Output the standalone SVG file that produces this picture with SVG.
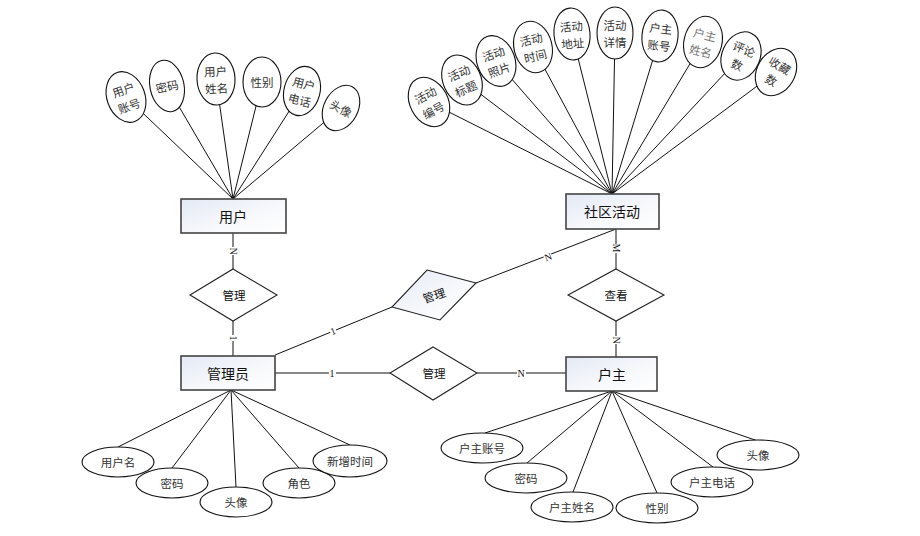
<svg xmlns="http://www.w3.org/2000/svg" width="920" height="536" viewBox="0 0 920 536">
  <defs>
    <linearGradient id="entFill" x1="0" y1="0" x2="1" y2="1">
      <stop offset="0" stop-color="#e3e9f5"/>
      <stop offset="0.6" stop-color="#f8f9fc"/>
      <stop offset="1" stop-color="#ffffff"/>
    </linearGradient>
    <style>
      .ent { fill: url(#entFill); stroke: #444; stroke-width: 1.6; }
      .rel { fill: #fff; stroke: #222; stroke-width: 1.1; }
      .relg { fill: url(#entFill); stroke: #222; stroke-width: 1.1; }
      .attr { fill: #fff; stroke: #111; stroke-width: 1.1; }
      .ln { stroke: #111; stroke-width: 1; fill: none; }
      .t-ent { font-family: "Noto Sans CJK SC", "Liberation Sans", sans-serif; font-size: 14px; fill: #111; text-anchor: middle; dominant-baseline: central; }
      .t-rel { font-family: "Noto Sans CJK SC", "Liberation Sans", sans-serif; font-size: 11.5px; fill: #111; text-anchor: middle; dominant-baseline: central; }
      .t-att { font-family: "Noto Sans CJK SC", "Liberation Sans", sans-serif; font-size: 11.5px; fill: #333; text-anchor: middle; dominant-baseline: central; }
      .card { font-family: "Liberation Serif", serif; font-size: 10px; fill: #111; text-anchor: middle; dominant-baseline: central; }
      .cbg { fill: #fff; }
    </style>
  </defs>

  <!-- connectors -->
  <g id="connectors">
    <!-- 用户 attributes -->
    <line class="ln" x1="233" y1="199" x2="126" y2="97"/>
    <line class="ln" x1="233" y1="199" x2="167" y2="86"/>
    <line class="ln" x1="233" y1="199" x2="216" y2="79"/>
    <line class="ln" x1="233" y1="199" x2="262" y2="82"/>
    <line class="ln" x1="233" y1="199" x2="302" y2="91"/>
    <line class="ln" x1="233" y1="199" x2="341" y2="108"/>
    <!-- 社区活动 attributes -->
    <line class="ln" x1="612" y1="194" x2="429" y2="102"/>
    <line class="ln" x1="612" y1="194" x2="462" y2="80"/>
    <line class="ln" x1="612" y1="194" x2="496" y2="61"/>
    <line class="ln" x1="612" y1="194" x2="533" y2="47"/>
    <line class="ln" x1="612" y1="194" x2="572" y2="34"/>
    <line class="ln" x1="612" y1="194" x2="615" y2="33"/>
    <line class="ln" x1="612" y1="194" x2="660" y2="36"/>
    <line class="ln" x1="612" y1="194" x2="703" y2="42"/>
    <line class="ln" x1="612" y1="194" x2="741" y2="56"/>
    <line class="ln" x1="612" y1="194" x2="776" y2="72"/>
    <!-- 管理员 attributes -->
    <line class="ln" x1="231" y1="390" x2="118" y2="447"/>
    <line class="ln" x1="231" y1="390" x2="172" y2="468"/>
    <line class="ln" x1="231" y1="390" x2="236" y2="487"/>
    <line class="ln" x1="231" y1="390" x2="299" y2="468"/>
    <line class="ln" x1="231" y1="390" x2="350" y2="445"/>
    <!-- 户主 attributes -->
    <line class="ln" x1="612" y1="391" x2="485" y2="433"/>
    <line class="ln" x1="612" y1="391" x2="527" y2="463"/>
    <line class="ln" x1="612" y1="391" x2="573" y2="492"/>
    <line class="ln" x1="612" y1="391" x2="657" y2="493"/>
    <line class="ln" x1="612" y1="391" x2="713" y2="467"/>
    <line class="ln" x1="612" y1="391" x2="758" y2="441"/>

    <!-- relationships -->
    <line class="ln" x1="233" y1="233" x2="233" y2="269"/>
    <line class="ln" x1="233" y1="321" x2="233" y2="356"/>
    <line class="ln" x1="616" y1="229" x2="616" y2="269"/>
    <line class="ln" x1="616" y1="321" x2="616" y2="357"/>
    <line class="ln" x1="275" y1="355" x2="392" y2="307"/>
    <line class="ln" x1="476" y1="283" x2="616" y2="229"/>
    <line class="ln" x1="275" y1="373" x2="390" y2="373"/>
    <line class="ln" x1="477" y1="373" x2="566" y2="373"/>

    <!-- cardinality labels -->
    <g transform="translate(233,251) rotate(90)"><rect class="cbg" x="-4" y="-4" width="8" height="8"/><text class="card" x="0" y="0">N</text></g>
    <g transform="translate(233,338) rotate(90)"><rect class="cbg" x="-3" y="-4" width="6" height="8"/><text class="card" x="0" y="0">1</text></g>
    <g transform="translate(616,248) rotate(90)"><rect class="cbg" x="-4" y="-4" width="9" height="8"/><text class="card" x="0" y="0">M</text></g>
    <g transform="translate(616,340) rotate(90)"><rect class="cbg" x="-4" y="-4" width="8" height="8"/><text class="card" x="0" y="0">N</text></g>
    <g transform="translate(333,331) rotate(-22)"><rect class="cbg" x="-3" y="-4" width="6" height="8"/><text class="card" x="0" y="0">1</text></g>
    <g transform="translate(548,257) rotate(-21)"><rect class="cbg" x="-4" y="-4" width="8" height="8"/><text class="card" x="0" y="0">N</text></g>
    <g><rect class="cbg" x="329" y="368" width="7" height="10"/><text class="card" x="332" y="373">1</text></g>
    <g><rect class="cbg" x="517" y="368" width="9" height="10"/><text class="card" x="521" y="373">N</text></g>
  </g>

  <!-- entities -->
  <g id="ent-user">
    <rect class="ent" x="181" y="199" width="105" height="34"/>
    <text class="t-ent" x="233" y="216">用户</text>
  </g>
  <g id="ent-activity">
    <rect class="ent" x="566" y="194" width="93" height="35"/>
    <text class="t-ent" x="612" y="211">社区活动</text>
  </g>
  <g id="ent-admin">
    <rect class="ent" x="181" y="356" width="94" height="34"/>
    <text class="t-ent" x="228" y="373">管理员</text>
  </g>
  <g id="ent-owner">
    <rect class="ent" x="566" y="357" width="91" height="34"/>
    <text class="t-ent" x="612" y="374">户主</text>
  </g>

  <!-- relationships -->
  <g id="rel-user-admin">
    <polygon class="rel" points="233,269 277,295 233,321 190,295"/>
    <text class="t-rel" x="234" y="295">管理</text>
  </g>
  <g id="rel-admin-activity">
    <polygon class="relg" points="427,270 476,283 440,320 392,307"/>
    <text class="t-rel" x="0" y="0" transform="translate(434,295) rotate(-18)">管理</text>
  </g>
  <g id="rel-admin-owner">
    <polygon class="rel" points="433,347 477,373 433,400 390,373"/>
    <text class="t-rel" x="434" y="373">管理</text>
  </g>
  <g id="rel-view">
    <polygon class="rel" points="616,269 664,295 616,321 568,295"/>
    <text class="t-rel" x="616" y="295">查看</text>
  </g>

  <!-- 用户 attributes -->
  <g id="attr-user-account" transform="translate(126,97) rotate(-20)"><ellipse class="attr" rx="19" ry="26"/><text class="t-att" y="-8">用户</text><text class="t-att" y="9">账号</text></g>
  <g id="attr-user-pwd" transform="translate(167,86) rotate(-12)"><ellipse class="attr" rx="17" ry="26"/><text class="t-att" y="0">密码</text></g>
  <g id="attr-user-name" transform="translate(216,79) rotate(-3)"><ellipse class="attr" rx="19" ry="26"/><text class="t-att" y="-8">用户</text><text class="t-att" y="9">姓名</text></g>
  <g id="attr-user-gender" transform="translate(262,82)"><ellipse class="attr" rx="19" ry="25"/><text class="t-att" y="0">性别</text></g>
  <g id="attr-user-phone" transform="translate(302,91) rotate(15)"><ellipse class="attr" rx="18" ry="25"/><text class="t-att" y="-8">用户</text><text class="t-att" y="9">电话</text></g>
  <g id="attr-user-avatar" transform="translate(341,108) rotate(28)"><ellipse class="attr" rx="17" ry="24"/><text class="t-att" y="0">头像</text></g>

  <!-- 社区活动 attributes -->
  <g id="attr-act-id" transform="translate(429,102) rotate(-28)"><ellipse class="attr" rx="19" ry="26"/><text class="t-att" y="-8">活动</text><text class="t-att" y="9">编号</text></g>
  <g id="attr-act-title" transform="translate(462,80) rotate(-24)"><ellipse class="attr" rx="19" ry="26"/><text class="t-att" y="-8">活动</text><text class="t-att" y="9">标题</text></g>
  <g id="attr-act-photo" transform="translate(496,61) rotate(-20)"><ellipse class="attr" rx="19" ry="26"/><text class="t-att" y="-8">活动</text><text class="t-att" y="9">照片</text></g>
  <g id="attr-act-time" transform="translate(533,47) rotate(-14)"><ellipse class="attr" rx="19" ry="26"/><text class="t-att" y="-8">活动</text><text class="t-att" y="9">时间</text></g>
  <g id="attr-act-addr" transform="translate(572,34) rotate(-5)"><ellipse class="attr" rx="18" ry="26"/><text class="t-att" y="-8">活动</text><text class="t-att" y="9">地址</text></g>
  <g id="attr-act-detail" transform="translate(615,33)"><ellipse class="attr" rx="18" ry="26"/><text class="t-att" y="-8">活动</text><text class="t-att" y="9">详情</text></g>
  <g id="attr-act-owner-acc" transform="translate(660,36) rotate(6)"><ellipse class="attr" rx="18" ry="26"/><text class="t-att" y="-8">户主</text><text class="t-att" y="9">账号</text></g>
  <g id="attr-act-owner-name" transform="translate(703,42) rotate(14)"><ellipse class="attr" rx="19" ry="26"/><text class="t-att" y="-8" fill="#666" style="fill:#777">户主</text><text class="t-att" y="9" style="fill:#777">姓名</text></g>
  <g id="attr-act-comments" transform="translate(741,56) rotate(24)"><ellipse class="attr" rx="19" ry="25"/><text class="t-att" y="-8">评论</text><text class="t-att" y="9">数</text></g>
  <g id="attr-act-favs" transform="translate(776,72) rotate(30)"><ellipse class="attr" rx="19" ry="25"/><text class="t-att" y="-8">收藏</text><text class="t-att" y="9">数</text></g>

  <!-- 管理员 attributes -->
  <g id="attr-admin-name"><ellipse class="attr" cx="118" cy="462" rx="36" ry="15"/><text class="t-att" x="118" y="462">用户名</text></g>
  <g id="attr-admin-pwd"><ellipse class="attr" cx="172" cy="483" rx="36" ry="15"/><text class="t-att" x="172" y="483">密码</text></g>
  <g id="attr-admin-avatar"><ellipse class="attr" cx="236" cy="502" rx="36" ry="15"/><text class="t-att" x="236" y="502">头像</text></g>
  <g id="attr-admin-role"><ellipse class="attr" cx="299" cy="483" rx="36" ry="15"/><text class="t-att" x="299" y="483">角色</text></g>
  <g id="attr-admin-created"><ellipse class="attr" cx="350" cy="461" rx="37" ry="16"/><text class="t-att" x="350" y="461">新增时间</text></g>

  <!-- 户主 attributes -->
  <g id="attr-owner-acc"><ellipse class="attr" cx="482" cy="448" rx="41" ry="15"/><text class="t-att" x="482" y="448">户主账号</text></g>
  <g id="attr-owner-pwd"><ellipse class="attr" cx="526" cy="478" rx="41" ry="15"/><text class="t-att" x="526" y="478">密码</text></g>
  <g id="attr-owner-name"><ellipse class="attr" cx="572" cy="507" rx="41" ry="15"/><text class="t-att" x="572" y="507">户主姓名</text></g>
  <g id="attr-owner-gender"><ellipse class="attr" cx="657" cy="508" rx="41" ry="15"/><text class="t-att" x="657" y="508">性别</text></g>
  <g id="attr-owner-phone"><ellipse class="attr" cx="712" cy="482" rx="41" ry="15"/><text class="t-att" x="712" y="482">户主电话</text></g>
  <g id="attr-owner-avatar"><ellipse class="attr" cx="758" cy="455" rx="41" ry="15"/><text class="t-att" x="758" y="455">头像</text></g>
</svg>
